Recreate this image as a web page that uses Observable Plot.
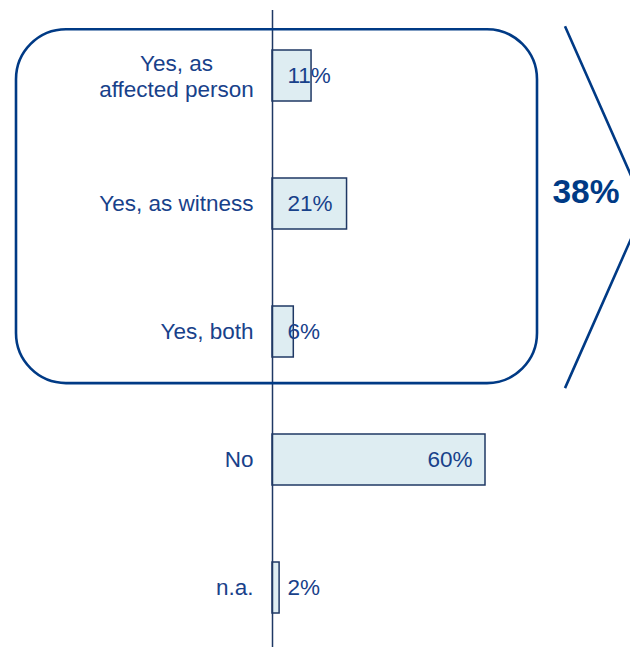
<!DOCTYPE html>
<html><head><meta charset="utf-8">
<script src="https://cdn.jsdelivr.net/npm/d3@7"></script>
<script src="https://cdn.jsdelivr.net/npm/@observablehq/plot@0.6"></script>
<style>html,body{margin:0;padding:0;background:#fff;overflow:hidden} svg{display:block}</style>
</head><body><div id="chart"></div>
<script>
// ---- data ----
const categories = ["Yes, as\naffected person", "Yes, as witness", "Yes, both", "No", "n.a."];
const values = [11, 21, 6, 60, 2];
const valueLabels = ["11%", "21%", "6%", "60%", "2%"];
const yesGroup = [0, 1, 2]; // rows enclosed by the rounded box
const yesTotal = d3.sum(yesGroup, i => values[i]);

const data = categories.map((c, i) => ({category: c, value: values[i], label: valueLabels[i], inside: values[i] >= 30}));

// ---- styles ----
const navy = "#1f3864";
const textBlue = "#18418a";
const boxBlue = "#003a85";
const fontFamily = "'Liberation Sans', Arial, sans-serif";
const fs = 22.5;

function groupAnnotation(index, scales) {
  const {x, y} = scales;
  const step = y(categories[1]) - y(categories[0]);
  const bw = step * (1 - 0.6);
  const x0 = x(0);
  const top = y(categories[yesGroup[0]]) - 20.7;
  const bottom = y(categories[yesGroup[yesGroup.length - 1]]) + bw + 25.9;
  const g = d3.create("svg:g");
  g.append("rect")
    .attr("x", x0 - 256).attr("y", top)
    .attr("width", 521).attr("height", bottom - top)
    .attr("rx", 50).attr("ry", 50)
    .attr("fill", "none").attr("stroke", boxBlue).attr("stroke-width", 2.6);
  const bx = x0 + 293, bTop = top - 3, bBot = bottom + 5, mid = (bTop + bBot) / 2;
  g.append("path")
    .attr("d", `M${bx},${bTop}L${bx + 80},${mid}L${bx},${bBot}`)
    .attr("fill", "none").attr("stroke", boxBlue).attr("stroke-width", 2.6);
  g.append("text")
    .attr("x", bx + 21).attr("y", mid - 16)
    .attr("text-anchor", "middle").attr("dy", "0.35em")
    .attr("font-family", fontFamily).attr("font-weight", "bold")
    .attr("font-size", 33.5).attr("fill", boxBlue)
    .text(`${yesTotal}%`);
  return g.node();
}

const chart = Plot.plot({
  width: 630,
  height: 647,
  marginLeft: 272,
  marginRight: 3,
  marginTop: 23,
  marginBottom: 7.2,
  style: {fontFamily, background: "#fff", overflow: "hidden"},
  x: {domain: [0, 100], axis: null},
  y: {domain: categories, axis: null, paddingInner: 0.6, paddingOuter: 0.2},
  marks: [
    Plot.barX(data, {x: "value", y: "category", fill: "#deedf2", stroke: navy, strokeWidth: 1.5}),
    Plot.ruleX([0], {stroke: navy, strokeWidth: 1.5, insetTop: -13, insetBottom: -7.2}),
    Plot.text(data.filter((d, i) => i !== 0), {x: 0, y: "category", text: "category", textAnchor: "end", dx: -19, fontSize: fs, fill: textBlue}),
    Plot.text(data.filter((d, i) => i === 0), {x: 0, y: "category", text: "category", textAnchor: "middle", dx: -96, lineHeight: 1.12, fontSize: fs, fill: textBlue}),
    Plot.text(data.filter(d => !d.inside), {x: 0, y: "category", text: "label", textAnchor: "start", dx: 15, fontSize: fs, fill: textBlue}),
    Plot.text(data.filter(d => d.inside), {x: "value", y: "category", text: "label", textAnchor: "end", dx: -13, fontSize: fs, fill: textBlue}),
    groupAnnotation
  ]
});
document.getElementById("chart").appendChild(chart);
</script>
</body></html>
